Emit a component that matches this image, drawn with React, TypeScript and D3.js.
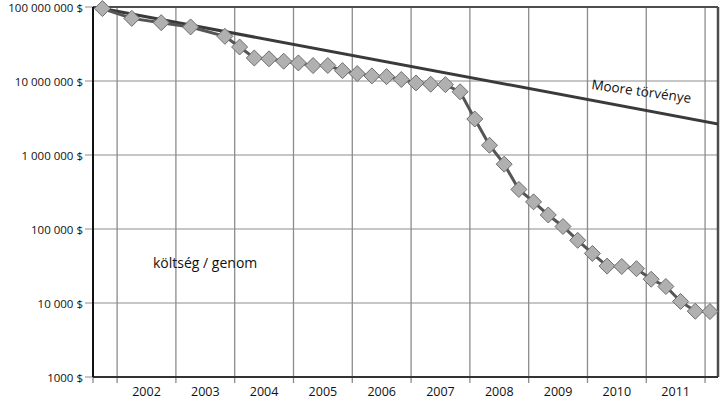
import * as d3 from 'd3';

// költség / genom (USD), negyedéves adatok
const months = [
  '2001-09', '2002-03', '2002-09', '2003-03', '2003-10', '2004-01', '2004-04', '2004-07',
  '2004-10', '2005-01', '2005-04', '2005-07', '2005-10', '2006-01', '2006-04', '2006-07',
  '2006-10', '2007-01', '2007-04', '2007-07', '2007-10', '2008-01', '2008-04', '2008-07',
  '2008-10', '2009-01', '2009-04', '2009-07', '2009-10', '2010-01', '2010-04', '2010-07',
  '2010-10', '2011-01', '2011-04', '2011-07', '2011-10', '2012-01',
];
const costPerGenome = [
  95263072, 70175437, 61448422, 53751684, 40157554, 28780376, 20442576, 19934346,
  18519312, 17534970, 16159699, 16180224, 13801124, 12585659, 11732535, 11455315,
  10474556, 9408739, 9047003, 8927342, 7147571, 3063820, 1352982, 752080,
  342502, 232735, 154714, 108065, 70333, 46774, 31512, 31125,
  29092, 20963, 16712, 10497, 7743, 7666,
];

// Moore törvénye: kezdő és záró pont
const mooreMonths = ['2001-09', '2012-03'];
const mooreValues = [95263072, 2600000];

const years = ['2002', '2003', '2004', '2005', '2006', '2007', '2008', '2009', '2010', '2011'];
const yTicks = [1e8, 1e7, 1e6, 1e5, 1e4, 1e3];
const yTickLabels = ['100 000 000 $', '10 000 000 $', '1 000 000 $', '100 000 $', '10 000 $', '1000 $'];

const toYear = (m: string) => {
  const [y, mo] = m.split('-').map(Number);
  return y + mo / 12;
};

export default function App() {
  const width = 720;
  const height = 399;
  const left = 93, right = 718, top = 7, bottom = 377;

  const x = d3.scaleLinear().domain([2001.59, 2012.22]).range([left, right]);
  const y = d3.scaleLog().domain([1000, 1e8]).range([bottom, top]);

  const line = d3.line<[number, number]>()
    .x(d => x(d[0]))
    .y(d => y(d[1]));

  const points: [number, number][] = months.map((m, i) => [toYear(m), costPerGenome[i]]);
  const moore: [number, number][] = mooreMonths.map((m, i) => [toYear(m), mooreValues[i]]);

  const gridYears = d3.range(2002, 2013);
  const font = '"Open Sans", sans-serif';
  const r = 8;

  return (
    <svg width={width} height={height} style={{ position: 'absolute', left: 0, top: 0, background: 'white' }}>
      <defs>
        <clipPath id="plot">
          <rect x={left} y={top - 10} width={right - left} height={bottom - top + 10} />
        </clipPath>
      </defs>

      {/* vízszintes rácsvonalak */}
      {yTicks.map(t => (
        <line key={t} x1={left - 8} x2={right} y1={y(t)} y2={y(t)} stroke="#b3b3b3" strokeWidth={1.5} />
      ))}
      {/* függőleges rácsvonalak */}
      {gridYears.map(g => (
        <line key={g} x1={x(g)} x2={x(g)} y1={top} y2={bottom + 6} stroke="#8c8c8c" strokeWidth={1.3} />
      ))}
      <line x1={left} x2={left} y1={bottom} y2={bottom + 6} stroke="#8c8c8c" strokeWidth={1.3} />

      {/* keret */}
      <line x1={left} x2={right} y1={top} y2={top} stroke="#4d4d4d" strokeWidth={2} />
      <line x1={right} x2={right} y1={top} y2={bottom} stroke="#4d4d4d" strokeWidth={2.5} />
      <line x1={left} x2={right} y1={bottom} y2={bottom} stroke="#333" strokeWidth={2} />
      <line x1={left} x2={left} y1={top} y2={bottom} stroke="#111" strokeWidth={2} />

      {/* tengelyfeliratok */}
      {yTicks.map((t, i) => (
        <text key={t} x={83} y={y(t) + 1} dy="0.35em" textAnchor="end" fontFamily={font} fontSize={11.5} fill="#111">
          {yTickLabels[i]}
        </text>
      ))}
      {years.map(yr => (
        <text key={yr} x={x(+yr + 0.5)} y={396} textAnchor="middle" fontFamily={font} fontSize={12.5} fill="#111">
          {yr}
        </text>
      ))}

      <g clipPath="url(#plot)">
        <path d={line(moore) ?? ''} fill="none" stroke="#3a3a3a" strokeWidth={3} />
        <path d={line(points) ?? ''} fill="none" stroke="#555" strokeWidth={3} />
      </g>
      {points.map((p, i) => (
        <path
          key={i}
          d={`M${x(p[0])},${y(p[1]) - r}L${x(p[0]) + r},${y(p[1])}L${x(p[0])},${y(p[1]) + r}L${x(p[0]) - r},${y(p[1])}Z`}
          fill="#b0b0b0"
          stroke="#6e6e6e"
          strokeWidth={1}
        />
      ))}

      <text
        transform={`translate(591,89) rotate(8)`}
        fontFamily={font}
        fontSize={13.5}
        fill="#111"
      >
        Moore törvénye
      </text>
      <text x={153} y={268} fontFamily={font} fontSize={14} fill="#111">
        költség / genom
      </text>
    </svg>
  );
}
